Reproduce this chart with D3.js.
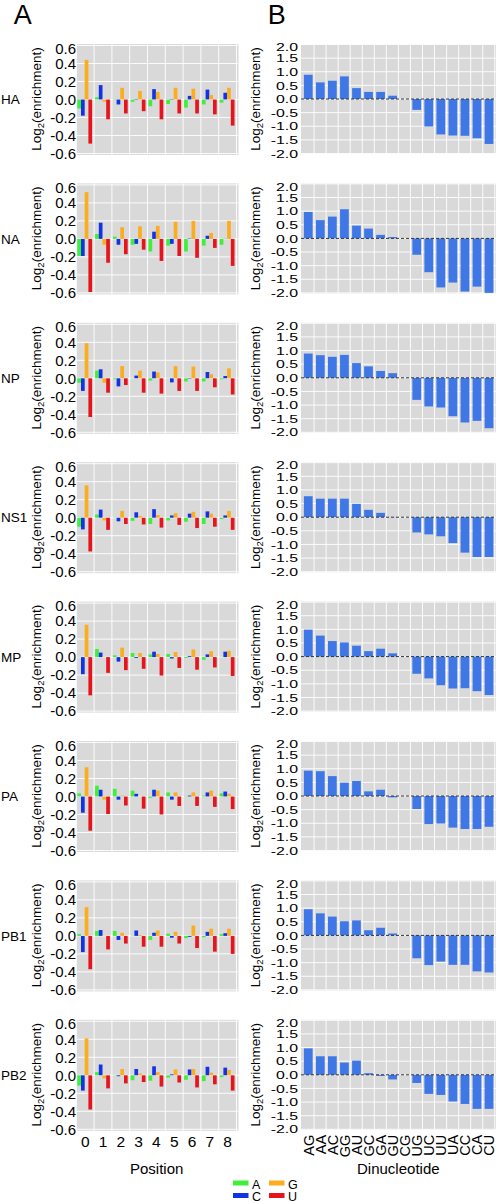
<!DOCTYPE html>
<html><head><meta charset="utf-8">
<script src="https://cdn.jsdelivr.net/npm/d3@7"></script>
<style>body{margin:0;background:#fff} text{font-family:"Liberation Sans",Arial,sans-serif;fill:#000}</style>
</head><body><svg id="c" width="496" height="1203"></svg>
<script>
const segments = ["HA","NA","NP","NS1","MP","PA","PB1","PB2"];
const positions = ["0","1","2","3","4","5","6","7","8"];
const nucleotides = ["A","C","G","U"];
// Panel A: log2 enrichment per position, one row per segment
const valA = [
  [-0.10, 0.025,-0.005,-0.025,-0.075,-0.05,-0.09,-0.055,-0.035],
  [-0.19, 0.055, 0.025,-0.065,-0.14,-0.075,-0.14,-0.075,-0.065],
  [-0.05, 0.085,-0.01, 0.003,-0.025, 0.003,-0.035,-0.035,-0.01],
  [-0.10, 0.035, 0.003,-0.035,-0.07,-0.03,-0.045,-0.07,-0.015],
  [ 0.003,0.09, 0.02, 0.045, 0.03, 0.035,-0.01,-0.03, 0.003],
  [ 0.035,0.12, 0.085, 0.065,-0.015, 0.045,-0.005, 0.01, 0.035],
  [ 0.02, 0.055, 0.055, 0.003,-0.045, 0.025,-0.025,-0.015, 0.02],
  [-0.115,0.035, 0.003,-0.055,-0.06,-0.025,-0.05,-0.065,-0.02]
];
const valC = [
  [-0.18, 0.16,-0.055, 0.005, 0.115, 0.005, 0.04, 0.11, 0.075],
  [-0.19, 0.18,-0.065,-0.055, 0.08,-0.055, 0.005, 0.035, 0.002],
  [-0.14, 0.10,-0.09, 0.03, 0.075,-0.045,-0.005, 0.07, 0.025],
  [-0.13, 0.09,-0.04, 0.06, 0.095, 0.025, 0.045, 0.07, 0.025],
  [-0.19, 0.05,-0.05,-0.01, 0.06,-0.015, 0.01, 0.03, 0.06],
  [-0.18, 0.075,-0.035, 0.03, 0.075,-0.035, 0.01, 0.045, 0.055],
  [-0.18, 0.065,-0.045, 0.06, 0.035,-0.02,-0.01, 0.045, 0.03],
  [-0.17, 0.12,-0.01, 0.07, 0.10, 0.01, 0.065, 0.095, 0.085]
];
const valG = [
  [0.44,-0.025, 0.13, 0.095, 0.085, 0.13, 0.12, 0.05, 0.13],
  [0.52,-0.065, 0.13, 0.14, 0.145, 0.19, 0.20, 0.065, 0.20],
  [0.39,-0.05, 0.135, 0.085, 0.065, 0.135, 0.13, 0.045, 0.11],
  [0.36,-0.03, 0.075, 0.02, 0.03, 0.05, 0.065, 0.045, 0.075],
  [0.36, 0.003, 0.105, 0.045, 0.035, 0.055, 0.085, 0.065, 0.07],
  [0.325,-0.035, 0.01, 0.003, 0.065, 0.045, 0.045, 0.065, 0.03],
  [0.32, 0.003, 0.035, 0.01, 0.06, 0.045, 0.115, 0.08, 0.08],
  [0.41,-0.035, 0.07, 0.02, 0.035, 0.065, 0.07, 0.03, 0.06]
];
const valU = [
  [-0.49,-0.22,-0.155,-0.13,-0.22,-0.155,-0.155,-0.165,-0.29],
  [-0.59,-0.265,-0.17,-0.12,-0.245,-0.19,-0.21,-0.10,-0.30],
  [-0.43,-0.16,-0.075,-0.16,-0.17,-0.14,-0.14,-0.10,-0.18],
  [-0.375,-0.135,-0.07,-0.075,-0.11,-0.08,-0.115,-0.10,-0.135],
  [-0.425,-0.175,-0.145,-0.13,-0.205,-0.12,-0.14,-0.115,-0.21],
  [-0.38,-0.195,-0.10,-0.135,-0.20,-0.105,-0.105,-0.115,-0.14],
  [-0.37,-0.15,-0.085,-0.12,-0.12,-0.085,-0.135,-0.175,-0.20],
  [-0.38,-0.145,-0.09,-0.075,-0.125,-0.08,-0.135,-0.10,-0.17]
];
// Panel B: dinucleotide log2 enrichment
const dinucleotides = ["AG","AA","AC","GG","AU","GC","GA","GU","CG","UG","UC","UU","UA","CC","CA","CU"];
const dinucValues = [
  [0.89,0.61,0.67,0.83,0.40,0.26,0.26,0.12,0,-0.40,-1.01,-1.30,-1.34,-1.35,-1.44,-1.65],
  [0.97,0.67,0.80,1.07,0.47,0.36,0.13,0.05,0,-0.60,-1.24,-1.80,-1.62,-1.95,-1.77,-2.0],
  [0.89,0.83,0.77,0.84,0.54,0.42,0.25,0.17,0,-0.81,-1.05,-1.09,-1.41,-1.64,-1.58,-1.85],
  [0.77,0.68,0.68,0.68,0.49,0.27,0.16,0.01,0,-0.56,-0.63,-0.70,-0.95,-1.30,-1.46,-1.46],
  [0.99,0.77,0.57,0.52,0.40,0.20,0.29,0.12,0,-0.63,-0.80,-1.05,-1.17,-1.16,-1.27,-1.41],
  [0.93,0.91,0.73,0.49,0.55,0.17,0.23,-0.05,0,-0.48,-1.03,-1.01,-1.16,-1.21,-1.21,-1.13],
  [0.96,0.81,0.69,0.52,0.55,0.19,0.28,0.07,0,-0.84,-1.09,-0.96,-1.08,-1.08,-1.32,-1.36],
  [0.97,0.68,0.68,0.45,0.52,0.06,-0.04,-0.17,0,-0.30,-0.70,-0.74,-0.98,-1.07,-1.25,-1.25]
];
const ticksA = [0.6,0.4,0.2,0,-0.2,-0.4,-0.6];
const ticksB = [2,1.5,1,0.5,0,-0.5,-1,-1.5,-2];

const svg = d3.select("#c");
const colors = {A:"#3ef03a", C:"#1232e6", G:"#fcac1c", U:"#e6141c"};
const barB = "#3f78e6";
const grey = "#d9d9d9";
const top0 = 44, pitch = 139.4;
const valsByNuc = {A:valA, C:valC, G:valG, U:valU};
const fmt = v => d3.format(".1f")(v).replace("\u2212","-");

const xA = d3.scaleBand().domain(positions).range([76.3, 236.5]);
const xN = d3.scaleBand().domain(nucleotides).range([1, 15.8]);
const xB = d3.scaleBand().domain(dinucleotides).range([302, 494.8]);

svg.append("text").attr("x",22.7).attr("y",24).attr("text-anchor","middle").style("font-size","27px").text("A");
svg.append("text").attr("x",276.7).attr("y",24).attr("text-anchor","middle").style("font-size","27px").text("B");

function yTitle(x, cy){
  const t = svg.append("text").attr("transform",`translate(${x},${cy}) rotate(-90)`)
    .attr("text-anchor","middle").style("font-size","13.5px");
  t.append("tspan").text("Log");
  t.append("tspan").attr("dy",3).style("font-size","9.5px").text("2");
  t.append("tspan").attr("dy",-3).text("(enrichment)");
}

segments.forEach((seg,i)=>{
  const top = top0 + i*pitch;
  const yA = d3.scaleLinear().domain([-0.6,0.6]).range([top+109.5, top+1.5]);
  const yB = d3.scaleLinear().domain([-2,2]).range([top+109.5, top+0.5]);

  // ---- Panel A ----
  const gA = svg.append("g");
  gA.append("rect").attr("x",76.8).attr("y",top).attr("width",238.5-76.8).attr("height",111).attr("fill",grey);
  gA.selectAll("line.h").data(ticksA).join("line").attr("x1",76.8).attr("x2",238.5)
    .attr("y1",d=>yA(d)).attr("y2",d=>yA(d)).attr("stroke","#fff").attr("stroke-width",0.9);
  gA.selectAll("line.v").data(positions).join("line")
    .attr("x1",d=>xA(d)+xA.bandwidth()).attr("x2",d=>xA(d)+xA.bandwidth())
    .attr("y1",top).attr("y2",top+111).attr("stroke","#fff").attr("stroke-width",0.9);
  nucleotides.forEach(n=>{
    const vals = valsByNuc[n][i];
    gA.selectAll(null).data(positions).join("rect")
      .attr("x",(p,j)=>xA(p)+xN(n)).attr("width",xN.bandwidth())
      .attr("y",(p,j)=>Math.min(yA(vals[j]),yA(0)))
      .attr("height",(p,j)=>Math.abs(yA(vals[j])-yA(0)))
      .attr("fill",colors[n]);
  });
  const axA = svg.append("g").attr("transform","translate(76.5,0)")
    .call(d3.axisLeft(yA).tickValues(ticksA).tickSize(0).tickPadding(0.5).tickFormat(fmt));
  axA.select(".domain").remove();
  axA.selectAll("text").style("font-size","15px").attr("font-family",null)
    .attr("y",d=>Math.max(0,(top+4.2)-yA(d)));
  svg.append("text").attr("x",1).attr("y",yA(0)).attr("dy","0.35em").style("font-size","13.5px").text(seg);
  yTitle(41, top+55);

  // ---- Panel B ----
  const gB = svg.append("g");
  gB.append("rect").attr("x",301).attr("y",top).attr("width",195).attr("height",110).attr("fill",grey);
  gB.selectAll("line.h").data(ticksB).join("line").attr("x1",301).attr("x2",496)
    .attr("y1",d=>yB(d)).attr("y2",d=>yB(d)).attr("stroke","#fff").attr("stroke-width",0.9);
  gB.selectAll("line.v").data(dinucleotides).join("line")
    .attr("x1",d=>xB(d)+xB.bandwidth()).attr("x2",d=>xB(d)+xB.bandwidth())
    .attr("y1",top).attr("y2",top+110).attr("stroke","#fff").attr("stroke-width",0.9);
  gB.selectAll("rect.bar").data(dinucleotides).join("rect")
    .attr("x",d=>xB(d)+1.9).attr("width",xB.bandwidth()-3.3)
    .attr("y",(d,j)=>Math.min(yB(dinucValues[i][j]),yB(0)))
    .attr("height",(d,j)=>Math.abs(yB(dinucValues[i][j])-yB(0)))
    .attr("fill",barB);
  gB.append("line").attr("x1",301).attr("x2",496).attr("y1",yB(0)).attr("y2",yB(0))
    .attr("stroke","#333").attr("stroke-width",1).attr("stroke-dasharray","3,2");
  const axB = svg.append("g").attr("transform","translate(298,0)")
    .call(d3.axisLeft(yB).tickValues(ticksB).tickSize(0).tickPadding(0).tickFormat(fmt));
  axB.select(".domain").remove();
  axB.selectAll("text").style("font-size","11.5px").attr("font-family",null)
    .attr("transform",d=>`translate(0,${Math.max(0,(top+3)-yB(d))}) scale(1.38,1)`);
  yTitle(260, top+55);

  if(i===segments.length-1){
    const bx = svg.append("g").attr("transform",`translate(0,${top+111})`)
      .call(d3.axisBottom(xA).tickSize(0).tickPadding(0));
    bx.select(".domain").remove();
    bx.selectAll("text").style("font-size","15.5px").attr("font-family",null).attr("y",5).attr("dy","0.71em");
    const bb = svg.append("g").attr("transform",`translate(0,${top+110})`)
      .call(d3.axisBottom(xB).tickSize(0).tickPadding(0));
    bb.select(".domain").remove();
    bb.selectAll("text").style("font-size","14.5px").attr("font-family",null)
      .attr("transform","rotate(-90)").attr("text-anchor","end").attr("x",-5).attr("y",0.5).attr("dy","0.35em");
    svg.append("text").attr("x",156.7).attr("y",1173.5).attr("text-anchor","middle").style("font-size","15px").text("Position");
    svg.append("text").attr("x",398.3).attr("y",1173.5).attr("text-anchor","middle").style("font-size","15px").text("Dinucleotide");
  }
});

// Legend
const lg = svg.append("g");
nucleotides.forEach((n,k)=>{
  const col = Math.floor(k/2), row = k%2;
  const x = 233 + col*36, y = 1180.5 + row*12.5;
  lg.append("rect").attr("x",x).attr("y",y).attr("width",15.5).attr("height",5).attr("fill",colors[n]);
  lg.append("text").attr("x",x+19).attr("y",y+8.3).style("font-size","12.5px").text(n);
});
</script></body></html>
